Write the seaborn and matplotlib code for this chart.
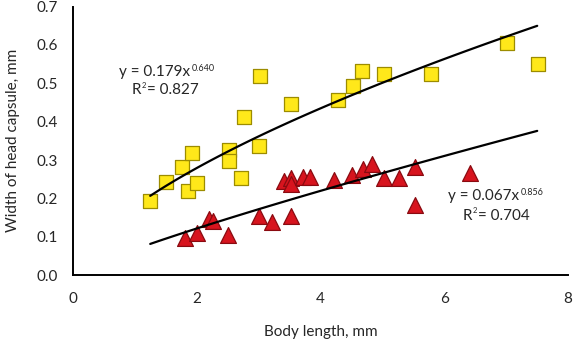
import numpy as np
import pandas as pd
import matplotlib
matplotlib.use("Agg")
import matplotlib.pyplot as plt
import seaborn as sns

# Yellow squares
sq_x = [1.25, 1.51, 1.76, 1.92, 1.86, 2.01, 2.52, 2.52, 2.71, 2.77, 3.02, 3.01, 3.52,
        4.28, 4.52, 4.67, 5.02, 5.78, 7.02, 7.52]
sq_y = [0.192, 0.242, 0.282, 0.319, 0.218, 0.239, 0.326, 0.297, 0.254, 0.411, 0.519, 0.336, 0.445,
        0.457, 0.494, 0.532, 0.525, 0.524, 0.604, 0.550]

# Red triangles
tr_x = [1.81, 2.01, 2.20, 2.26, 2.51, 3.01, 3.21, 3.52, 3.41, 3.52, 3.52, 3.72, 3.83,
        4.22, 4.51, 4.68, 4.83, 5.02, 5.27, 5.52, 5.52, 6.42]
tr_y = [0.096, 0.109, 0.146, 0.140, 0.104, 0.154, 0.137, 0.154, 0.245, 0.252, 0.238, 0.256, 0.256,
        0.247, 0.260, 0.277, 0.289, 0.252, 0.253, 0.282, 0.182, 0.266]

# Power fits shown on the chart
fit_a = [0.179, 0.067]
fit_b = [0.640, 0.856]
fit_r2 = [0.827, 0.704]
fit_range = [1.25, 7.5]
fit_labels_base = ["y = 0.179x", "y = 0.067x"]
fit_labels_exp = ["0.640", "0.856"]
fit_labels_r2 = ["= 0.827", "= 0.704"]

x_ticks = [0, 2, 4, 6, 8]
y_ticks = [0.0, 0.1, 0.2, 0.3, 0.4, 0.5, 0.6, 0.7]

sns.set_style("white")
plt.rcParams['font.family'] = ['Lato', 'DejaVu Sans']
plt.rcParams['mathtext.default'] = 'regular'

fig = plt.figure(figsize=(5.78, 3.41), dpi=100)
ax = fig.add_axes([0.126, 0.1935, 0.857, 0.787])

sq = pd.DataFrame({"x": sq_x, "y": sq_y})
tr = pd.DataFrame({"x": tr_x, "y": tr_y})

sns.scatterplot(data=sq, x="x", y="y", marker="s", s=110, color="#FFE81A",
                edgecolor="#9C8C00", linewidth=0.9, ax=ax, zorder=3)
sns.scatterplot(data=tr, x="x", y="y", marker="^", s=130, color="#D7141E",
                edgecolor="#8A0A10", linewidth=0.9, ax=ax, zorder=3)

xs = np.linspace(fit_range[0], fit_range[1], 100)
for a, b in zip(fit_a, fit_b):
    fit = pd.DataFrame({"x": xs, "y": a * xs ** b})
    sns.lineplot(data=fit, x="x", y="y", color="black", linewidth=1.6, ax=ax, zorder=4)

ax.set_xlim(0, 8)
ax.set_ylim(0, 0.7)
ax.set_xticks(x_ticks)
ax.set_yticks(y_ticks)
ax.set_xticklabels([str(v) for v in x_ticks])
ax.set_yticklabels([f"{v:.1f}" for v in y_ticks])
ax.tick_params(axis="x", direction="in", length=5, width=1.3, labelsize=11, pad=12, color="black")
ax.tick_params(axis="y", direction="out", length=6, width=1.3, labelsize=11, pad=5, color="black")
ax.set_xlabel("Body length, mm", fontsize=11, labelpad=14)
ax.set_ylabel("Width of head capsule, mm", fontsize=11, labelpad=12)

for s in ["top", "right"]:
    ax.spines[s].set_visible(False)
for s in ["left", "bottom"]:
    ax.spines[s].set_color("black")
    ax.spines[s].set_linewidth(1.4)

# Fit annotations: base text + small superscript exponent
base_pos = [(0.743, 0.530), (6.06, 0.206)]
r2_pos = [(0.947, 0.482), (6.30, 0.155)]
fig.canvas.draw()
renderer = fig.canvas.get_renderer()
for i in range(2):
    t = ax.text(base_pos[i][0], base_pos[i][1], fit_labels_base[i], ha="left", va="center", fontsize=11)
    bb = t.get_window_extent(renderer=renderer)
    ax.annotate(fit_labels_exp[i], xy=(bb.x1 / fig.dpi * 72, bb.y1 / fig.dpi * 72),
                xycoords="figure points", xytext=(1, -6), textcoords="offset points",
                ha="left", va="bottom", fontsize=6.5)
    r = ax.text(r2_pos[i][0], r2_pos[i][1], "R", ha="left", va="center", fontsize=11)
    rb = r.get_window_extent(renderer=renderer)
    ax.annotate("2", xy=(rb.x1 / fig.dpi * 72, rb.y1 / fig.dpi * 72),
                xycoords="figure points", xytext=(0.5, -4), textcoords="offset points",
                ha="left", va="bottom", fontsize=5.5)
    ax.annotate(fit_labels_r2[i], xy=(rb.x1 / fig.dpi * 72, (rb.y0 + rb.y1) / 2 / fig.dpi * 72),
                xycoords="figure points", xytext=(4, 0), textcoords="offset points",
                ha="left", va="center", fontsize=11)

fig.savefig("out.png", dpi=100)
